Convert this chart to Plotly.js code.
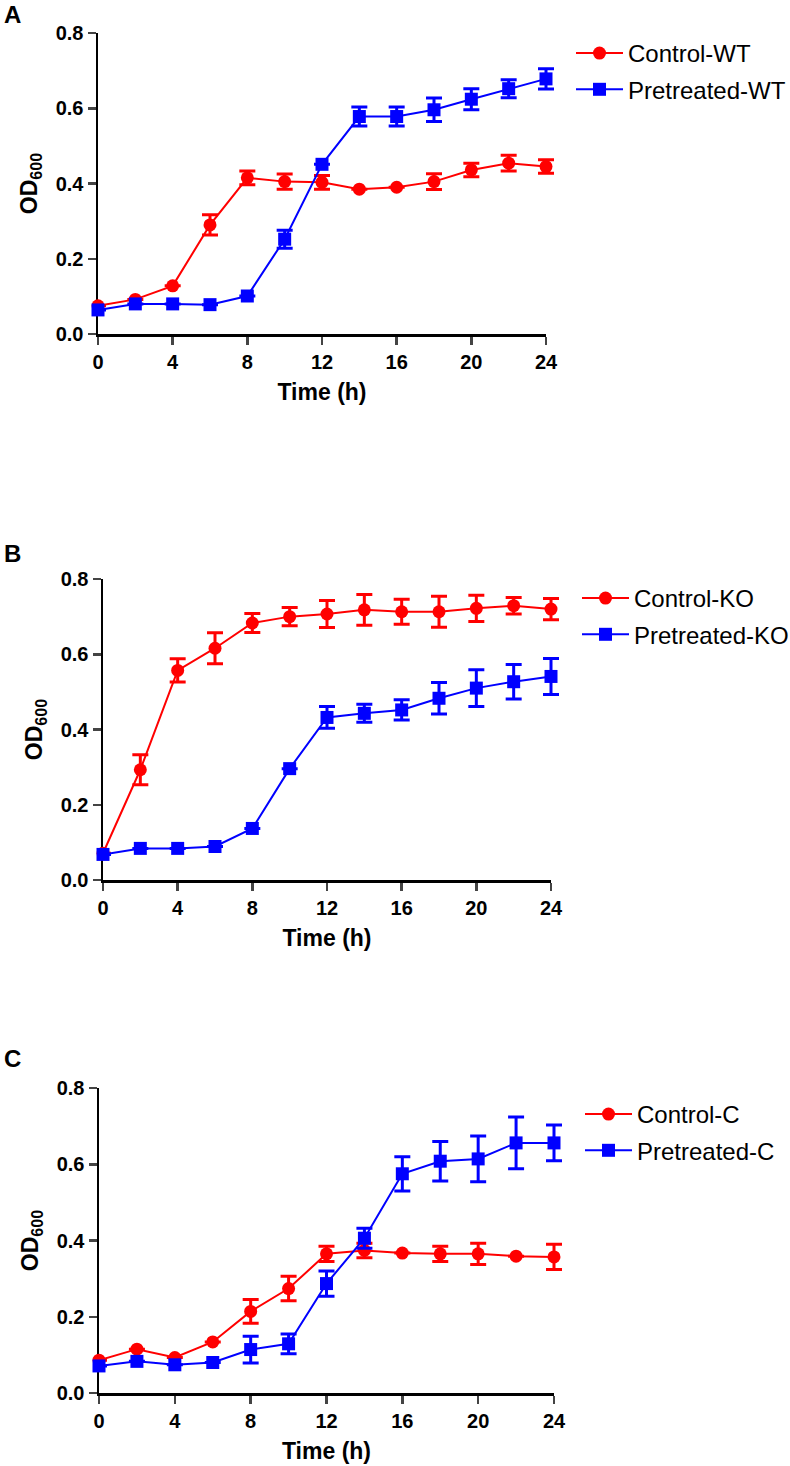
<!DOCTYPE html>
<html>
<head>
<meta charset="utf-8">
<script src="https://cdn.plot.ly/plotly-3.0.1.min.js"></script>
<style>html,body{margin:0;padding:0;background:#fff;}#chart{width:790px;height:1466px;}</style>
</head>
<body>
<div id="chart"></div>
<script>
// ---- Data ----
const hours = [0, 2, 4, 6, 8, 10, 12, 14, 16, 18, 20, 22, 24];
const xTicks = [0, 4, 8, 12, 16, 20, 24];
const yTicks = [0.0, 0.2, 0.4, 0.6, 0.8];

// Panel A
const controlWT      = [0.075, 0.092, 0.128, 0.290, 0.415, 0.405, 0.403, 0.385, 0.390, 0.405, 0.436, 0.454, 0.445];
const controlWTErr   = [0.000, 0.000, 0.000, 0.027, 0.018, 0.020, 0.018, 0.000, 0.000, 0.021, 0.018, 0.021, 0.018];
const pretreatedWT    = [0.064, 0.080, 0.080, 0.078, 0.101, 0.252, 0.451, 0.578, 0.578, 0.596, 0.624, 0.652, 0.678];
const pretreatedWTErr = [0.000, 0.000, 0.000, 0.000, 0.000, 0.024, 0.000, 0.025, 0.025, 0.031, 0.028, 0.024, 0.027];

// Panel B
const controlKO      = [0.071, 0.293, 0.557, 0.616, 0.683, 0.700, 0.707, 0.718, 0.713, 0.713, 0.722, 0.729, 0.720];
const controlKOErr   = [0.000, 0.040, 0.031, 0.041, 0.025, 0.024, 0.036, 0.041, 0.033, 0.041, 0.035, 0.022, 0.028];
const pretreatedKO    = [0.068, 0.084, 0.084, 0.089, 0.137, 0.296, 0.432, 0.443, 0.452, 0.483, 0.510, 0.527, 0.541];
const pretreatedKOErr = [0.000, 0.000, 0.000, 0.000, 0.000, 0.000, 0.029, 0.024, 0.027, 0.042, 0.049, 0.046, 0.048];

// Panel C
const controlC       = [0.086, 0.115, 0.093, 0.134, 0.214, 0.274, 0.365, 0.374, 0.367, 0.365, 0.365, 0.359, 0.357];
const controlCErr    = [0.000, 0.000, 0.000, 0.000, 0.031, 0.032, 0.020, 0.019, 0.000, 0.020, 0.028, 0.000, 0.033];
const pretreatedC     = [0.071, 0.083, 0.074, 0.080, 0.114, 0.129, 0.287, 0.406, 0.575, 0.608, 0.614, 0.656, 0.656];
const pretreatedCErr  = [0.000, 0.000, 0.000, 0.000, 0.035, 0.026, 0.033, 0.026, 0.045, 0.052, 0.060, 0.068, 0.047];

const panelLetters = ['A', 'B', 'C'];
const seriesNames = [['Control-WT', 'Pretreated-WT'], ['Control-KO', 'Pretreated-KO'], ['Control-C', 'Pretreated-C']];

// ---- Styling ----
const RED = '#FF0000', BLUE = '#0000FF';
const FONT = 'Liberation Sans, Arial, sans-serif';
const W = 790, H = 1466;
const PAD = 20; // extra room on the right so end error-bar caps are not clipped

// pixel geometry of the three plot areas [left, right, top, bottom]
const boxes = [[98, 546, 33, 334], [103, 551, 579, 880], [99, 554, 1088, 1393]];

// traces use hidden x axes (x4..x6) that share the visible axis scale but extend a little to the right
function makeTrace(y, err, name, color, symbol, panel, legend) {
  return {
    x: hours, y: y, name: name, type: 'scatter', mode: 'lines+markers',
    xaxis: 'x' + (panel + 4), yaxis: panel === 0 ? 'y' : 'y' + (panel + 1), legend: legend, legendgroup: name,
    line: {color: color, width: 2},
    marker: {color: color, symbol: symbol, size: 13},
    error_y: {type: 'data', array: err, visible: true, color: color, thickness: 3, width: 8},
    cliponaxis: false
  };
}
// empty traces that register the visible axis pairs so they are drawn
function axisHolder(panel) {
  const s = panel === 0 ? '' : String(panel + 1);
  return {type: 'scatter', x: [], y: [], xaxis: 'x' + s, yaxis: 'y' + s, showlegend: false, hoverinfo: 'skip'};
}

const data = [
  axisHolder(0), axisHolder(1), axisHolder(2),
  makeTrace(controlWT, controlWTErr, seriesNames[0][0], RED, 'circle', 0, 'legend'),
  makeTrace(pretreatedWT, pretreatedWTErr, seriesNames[0][1], BLUE, 'square', 0, 'legend'),
  makeTrace(controlKO, controlKOErr, seriesNames[1][0], RED, 'circle', 1, 'legend2'),
  makeTrace(pretreatedKO, pretreatedKOErr, seriesNames[1][1], BLUE, 'square', 1, 'legend2'),
  makeTrace(controlC, controlCErr, seriesNames[2][0], RED, 'circle', 2, 'legend3'),
  makeTrace(pretreatedC, pretreatedCErr, seriesNames[2][1], BLUE, 'square', 2, 'legend3')
];

function xAxis(b, anchor) {
  return {
    domain: [b[0] / W, b[1] / W], anchor: anchor, range: [0, 24], automargin: true, layer: 'below traces',
    tickvals: xTicks, ticktext: xTicks.map(String), ticks: 'outside', ticklen: 8, tickwidth: 2.5,
    showline: true, linewidth: 2.5, linecolor: '#000', showgrid: false, zeroline: false,
    tickfont: {family: FONT, size: 20, color: '#000', weight: 'bold'},
    title: {text: '<b>Time (h)</b>', font: {family: FONT, size: 23, color: '#000'}, standoff: 13}
  };
}
function hiddenXAxis(b, anchor) {
  const w = b[1] - b[0];
  return {
    domain: [b[0] / W, (b[1] + PAD) / W], anchor: anchor, range: [0, 24 * (w + PAD) / w],
    visible: false, showgrid: false, zeroline: false
  };
}
function yAxis(b, anchor) {
  return {
    domain: [1 - b[3] / H, 1 - b[2] / H], anchor: anchor, range: [0, 0.8], automargin: true, layer: 'below traces',
    tickvals: yTicks, ticktext: yTicks.map(v => v.toFixed(1)), ticks: 'outside', ticklen: 8, tickwidth: 2.5,
    showline: true, linewidth: 2.5, linecolor: '#000', showgrid: false, zeroline: false,
    tickfont: {family: FONT, size: 20, color: '#000', weight: 'bold'},
    title: {text: '<b>OD<sub>600</sub></b>', font: {family: FONT, size: 23, color: '#000'}, standoff: 12}
  };
}
function legendAt(px, py) {
  return {x: px / W, y: 1 - py / H, xanchor: 'left', yanchor: 'top', xref: 'paper', yref: 'paper',
    font: {family: FONT, size: 24, color: '#000'}, bgcolor: 'rgba(0,0,0,0)', itemwidth: 47,
    traceorder: 'grouped', tracegroupgap: 2};
}

const layout = {
  width: W, height: H, margin: {l: 0, r: 0, t: 0, b: 0, pad: 0, autoexpand: false},
  paper_bgcolor: '#fff', plot_bgcolor: 'rgba(0,0,0,0)', showlegend: true,
  xaxis: xAxis(boxes[0], 'y'), yaxis: yAxis(boxes[0], 'x'),
  xaxis2: xAxis(boxes[1], 'y2'), yaxis2: yAxis(boxes[1], 'x2'),
  xaxis3: xAxis(boxes[2], 'y3'), yaxis3: yAxis(boxes[2], 'x3'),
  xaxis4: hiddenXAxis(boxes[0], 'y'), xaxis5: hiddenXAxis(boxes[1], 'y2'), xaxis6: hiddenXAxis(boxes[2], 'y3'),
  legend: legendAt(571, 31), legend2: legendAt(577, 576), legend3: legendAt(580, 1092),
  annotations: panelLetters.map((t, i) => ({
    text: '<b>' + t + '</b>', xref: 'paper', yref: 'paper', x: 2 / W, y: 1 - [14, 553, 1058][i] / H,
    xanchor: 'left', yanchor: 'middle', showarrow: false, font: {family: FONT, size: 24, color: '#000'}
  }))
};

Plotly.newPlot('chart', data, layout, {displayModeBar: false, staticPlot: true});
</script>
</body>
</html>
